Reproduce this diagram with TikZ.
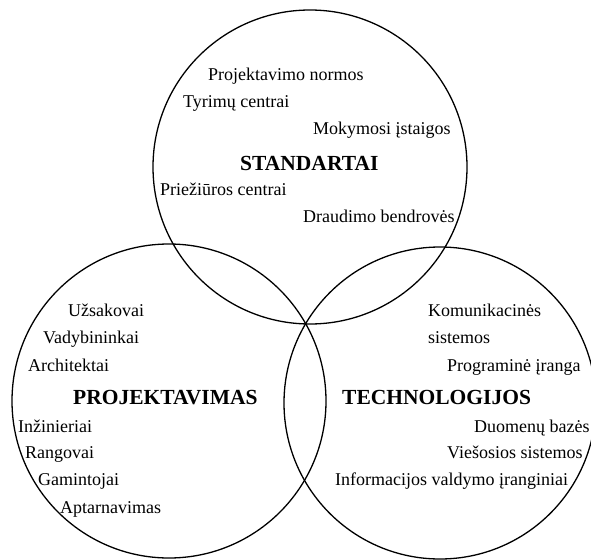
\documentclass[tikz,border=0pt]{standalone}
\usepackage{fontspec}
\setmainfont{Liberation Serif}
\begin{document}
\begin{tikzpicture}[x=1pt,y=-1pt,
  ring/.style={draw=black,line width=1.3pt},
  item/.style={anchor=base west,inner sep=0pt,font=\fontsize{18}{20}\selectfont},
  title/.style={anchor=base west,inner sep=0pt,font=\fontsize{21.5}{24}\selectfont\bfseries}]
\useasboundingbox (0,0) rectangle (591,559);
\clip (0,0) rectangle (591,559);
% circle centres
\coordinate (cs) at (310,167);
\coordinate (cp) at (169,401);
\coordinate (ct) at (440,403);
\draw[ring] (cs) circle (157);
\draw[ring] (cp) circle (157);
\draw[ring] (ct) circle (156);
% STANDARTAI
\node[item] (s1) at (208,81) {Projektavimo normos};
\node[item] (s2) at (183,108) {Tyrimų centrai};
\node[item] (s3) at (313,135) {Mokymosi įstaigos};
\node[title] (s0) at (240,170) {STANDARTAI};
\node[item] (s4) at (160,195) {Priežiūros centrai};
\node[item] (s5) at (303,222) {Draudimo bendrovės};
% PROJEKTAVIMAS
\node[item] (p1) at (68,316) {Užsakovai};
\node[item] (p2) at (43,343) {Vadybininkai};
\node[item] (p3) at (28,371) {Architektai};
\node[title] (p0) at (73,404) {PROJEKTAVIMAS};
\node[item] (p4) at (18,432) {Inžinieriai};
\node[item] (p5) at (25,458) {Rangovai};
\node[item] (p6) at (38,485) {Gamintojai};
\node[item] (p7) at (60,513) {Aptarnavimas};
% TECHNOLOGIJOS
\node[item] (t1) at (428,316) {Komunikacinės};
\node[item] (t2) at (428,343) {sistemos};
\node[item] (t3) at (447,371) {Programinė įranga};
\node[title] (t0) at (342,404) {TECHNOLOGIJOS};
\node[item] (t4) at (474,432) {Duomenų bazės};
\node[item] (t5) at (447,458) {Viešosios sistemos};
\node[item] (t6) at (335,485) {Informacijos valdymo įranginiai};
\end{tikzpicture}
\end{document}
